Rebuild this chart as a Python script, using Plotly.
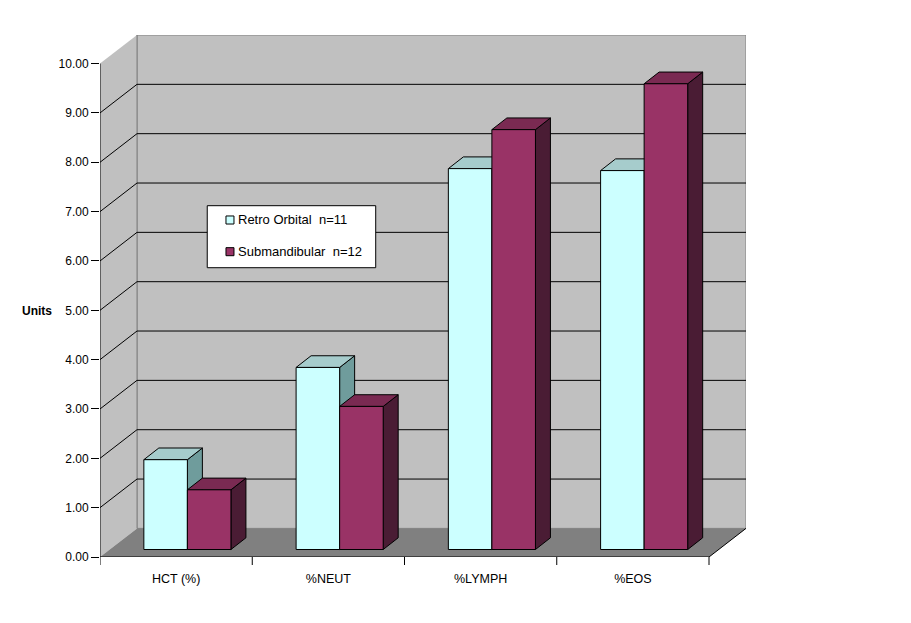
import plotly.graph_objects as go

# ---- data ----
categories = ["HCT (%)", "%NEUT", "%LYMPH", "%EOS"]
series_names = ["Retro Orbital\u00a0 n=11", "Submandibular\u00a0 n=12"]
retro_orbital = [1.82, 3.69, 7.72, 7.68]
submandibular = [1.21, 2.90, 8.51, 9.44]
y_ticks = [0, 1, 2, 3, 4, 5, 6, 7, 8, 9, 10]

# ---- styling / geometry constants ----
FONT = "Liberation Sans, Arial, sans-serif"
front_colors = ["#CCFFFF", "#993366"]
top_colors = ["#A6CCCC", "#7A2A52"]
side_colors = ["#6F9C9C", "#4A1C34"]
WALL = "#C0C0C0"
FLOOR = "#808080"

n_cat = len(categories)
X_MAX = 4.243          # x range (category units)
Y_MAX = 10.58          # y range
WDX, WDY = 0.243, 0.58  # wall depth offset
BASE = 0.152            # bar base (bars sit slightly back in depth)
BAR_LEFT = 0.288
BAR_W = 0.286
BDX, BDY = 0.0985, 0.237  # bar depth offset

fig = go.Figure()


def faces(vals, k):
    fx, fy, tx, ty, sx, sy = [], [], [], [], [], []
    for i, v in enumerate(vals):
        x0 = i + BAR_LEFT + k * BAR_W
        x1 = x0 + BAR_W
        y0 = BASE
        y1 = BASE + v
        fx += [x0, x1, x1, x0, x0, None]
        fy += [y0, y0, y1, y1, y0, None]
        tx += [x0, x1, x1 + BDX, x0 + BDX, x0, None]
        ty += [y1, y1, y1 + BDY, y1 + BDY, y1, None]
        sx += [x1, x1 + BDX, x1 + BDX, x1, x1, None]
        sy += [y0, y0 + BDY, y1 + BDY, y1, y0, None]
    return (fx, fy), (tx, ty), (sx, sy)


for k, vals in enumerate([retro_orbital, submandibular]):
    front, top, side = faces(vals, k)
    for (xs, ys), col in [(side, side_colors[k]), (top, top_colors[k]), (front, front_colors[k])]:
        fig.add_trace(go.Scatter(
            x=xs, y=ys, mode="lines", fill="toself", fillcolor=col,
            line=dict(color="black", width=1), hoverinfo="skip",
            showlegend=False, name=series_names[k]))

shapes = []
# back wall
shapes.append(dict(type="rect", xref="x", yref="y", x0=WDX, x1=n_cat + WDX,
                   y0=WDY, y1=10 + WDY, fillcolor=WALL,
                   line=dict(color="#808080", width=1), layer="below"))
# left wall
shapes.append(dict(type="path", xref="x", yref="y",
                   path=f"M0,0 L0,10 L{WDX},{10 + WDY} L{WDX},{WDY} Z",
                   fillcolor=WALL, line=dict(width=0), layer="below"))
shapes.append(dict(type="line", xref="x", yref="y", x0=WDX, x1=WDX, y0=WDY, y1=10 + WDY,
                   line=dict(color="#808080", width=1), layer="below"))
# floor
shapes.append(dict(type="path", xref="x", yref="y",
                   path=f"M0,0 L{WDX},{WDY} L{n_cat + WDX},{WDY} L{n_cat},0 Z",
                   fillcolor=FLOOR, line=dict(width=0), layer="below"))
# gridlines
for v in y_ticks[1:-1]:
    shapes.append(dict(type="path", xref="x", yref="y",
                       path=f"M0,{v} L{WDX},{v + WDY} L{n_cat + WDX},{v + WDY}",
                       line=dict(color="black", width=1), layer="below"))
# front axes
shapes.append(dict(type="line", xref="x", yref="y", x0=0, x1=0, y0=0, y1=10,
                   line=dict(color="black", width=1)))
shapes.append(dict(type="line", xref="x", yref="y", x0=0, x1=n_cat, y0=0, y1=0,
                   line=dict(color="black", width=1)))
shapes.append(dict(type="line", xref="x", yref="y", x0=n_cat, x1=n_cat + WDX, y0=0, y1=WDY,
                   line=dict(color="black", width=1)))
# category boundary ticks
for b in range(n_cat + 1):
    shapes.append(dict(type="line", xref="x", yref="paper", x0=b, x1=b, y0=0, y1=-8 / 522,
                       line=dict(color="black", width=1)))

# legend (manual, Excel style)
shapes.append(dict(type="rect", xref="paper", yref="paper", x0=0.166, x1=0.4268,
                   y0=0.5542, y1=0.673, fillcolor="white",
                   line=dict(color="black", width=1)))
leg_y = [0.6456, 0.5849]
annotations = []
for k in range(2):
    shapes.append(dict(type="rect", xref="paper", yref="paper", x0=0.195, x1=0.2074,
                       y0=leg_y[k] - 0.0077, y1=leg_y[k] + 0.0077,
                       fillcolor=front_colors[k], line=dict(color="black", width=1)))
    annotations.append(dict(xref="paper", yref="paper", x=0.2105, y=leg_y[k],
                            text=series_names[k], showarrow=False, xanchor="left",
                            yanchor="middle", font=dict(family=FONT, size=13, color="black")))

annotations.append(dict(xref="paper", yref="paper", x=-0.0975, y=0.4722, text="<b>Units</b>",
                        showarrow=False, xanchor="center", yanchor="middle",
                        font=dict(family=FONT, size=12, color="black")))

# page body has an 8px margin, so the figure is sized/offset to compensate
fig.update_layout(
    width=903, height=615,
    margin=dict(l=92, r=165, t=27, b=66),
    paper_bgcolor="white", plot_bgcolor="white",
    showlegend=False,
    shapes=shapes, annotations=annotations,
    font=dict(family=FONT, size=12, color="black"),
    xaxis=dict(range=[0, X_MAX], showgrid=False, zeroline=False, showline=False,
               tickmode="array", tickvals=[i + 0.5 for i in range(n_cat)],
               ticktext=categories, ticks="", ticklabelstandoff=12,
               tickfont=dict(family=FONT, size=12.5, color="black"), fixedrange=True),
    yaxis=dict(range=[0, Y_MAX], showgrid=False, zeroline=False, showline=False,
               tickmode="array", tickvals=y_ticks,
               ticktext=[f"{v:.2f}" for v in y_ticks],
               ticks="outside", ticklen=8, tickcolor="black", tickwidth=1,
               tickfont=dict(family=FONT, size=12, color="black"), fixedrange=True),
)

fig.write_html("out.html")
